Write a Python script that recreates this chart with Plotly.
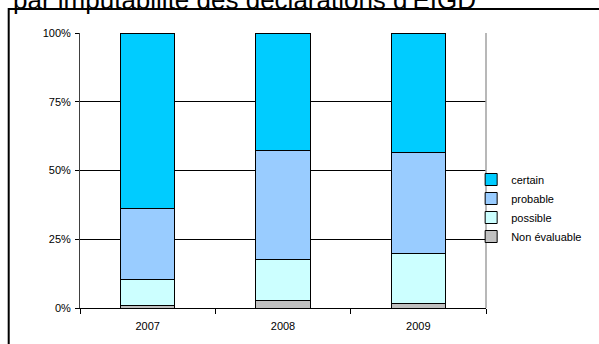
import plotly.graph_objects as go

years = ["2007", "2008", "2009"]
non_evaluable = [0.9, 2.9, 1.5]
possible = [9.3, 14.8, 18.2]
probable = [26.1, 39.4, 36.7]
certain = [63.7, 42.9, 43.6]
y_ticks = [0, 25, 50, 75, 100]
y_tick_labels = ["0%", "25%", "50%", "75%", "100%"]

series = [
    ("Non évaluable", non_evaluable, "#C0C0C0"),
    ("possible", possible, "#CCFFFF"),
    ("probable", probable, "#99CCFF"),
    ("certain", certain, "#00CCFF"),
]

title_text = "par imputabilité des déclarations d'EIGD"
font_family = "Arial, Liberation Sans, sans-serif"

fig = go.Figure()
for name, vals, color in series:
    fig.add_trace(go.Bar(
        x=years, y=vals, name=name,
        marker=dict(color=color, line=dict(color="#000000", width=1)),
        width=0.4,
    ))

L, R, T, B = 80, 109, 33, 36
W, H = 599, 344
pw, ph = W - L - R, H - T - B

def px_x(p):
    return (p - L) / pw

def px_y(p):
    return (H - B - p) / ph

fig.update_layout(
    width=W, height=H,
    margin=dict(l=L, r=R, t=T, b=B),
    barmode="stack",
    bargap=0.6,
    paper_bgcolor="white",
    plot_bgcolor="white",
    font=dict(family=font_family, size=11, color="#000000"),
    showlegend=True,
    legend=dict(
        x=px_x(475), y=px_y(208), xanchor="left", yanchor="middle",
        traceorder="reversed", font=dict(size=11, color="#000000"),
        bgcolor="rgba(0,0,0,0)", itemwidth=30,
    ),
    xaxis=dict(
        type="category", tickson="boundaries", ticks="outside", ticklen=5,
        tickcolor="#000000", showline=True, linecolor="#000000", linewidth=1,
        showgrid=False, tickfont=dict(size=11, color="#000000"),
        ticklabelstandoff=8,
    ),
    yaxis=dict(
        range=[0, 100], tickmode="array", tickvals=y_ticks, ticktext=y_tick_labels,
        ticks="outside", ticklen=4, tickcolor="#000000",
        showline=True, linecolor="#404040", linewidth=1,
        showgrid=True, gridcolor="#000000", gridwidth=1,
        zeroline=False, tickfont=dict(size=11, color="#000000"),
        ticklabelstandoff=2,
    ),
    shapes=[
        dict(type="line", xref="paper", yref="paper", x0=1, x1=1, y0=0, y1=1,
             line=dict(color="#A0A0A0", width=1.5)),
        dict(type="rect", xref="paper", yref="paper",
             x0=px_x(8), x1=px_x(640), y0=px_y(9), y1=px_y(380),
             line=dict(color="#000000", width=2)),
    ],
    annotations=[
        dict(text=title_text, xref="paper", yref="paper",
             x=px_x(10), y=px_y(17), xanchor="left", yanchor="bottom",
             showarrow=False, font=dict(size=26, family=font_family, color="#000000")),
    ],
)

fig.write_html(
    "out.html",
    config={"displayModeBar": False},
    post_script="document.body.style.margin='0';document.body.style.overflow='hidden';",
)
